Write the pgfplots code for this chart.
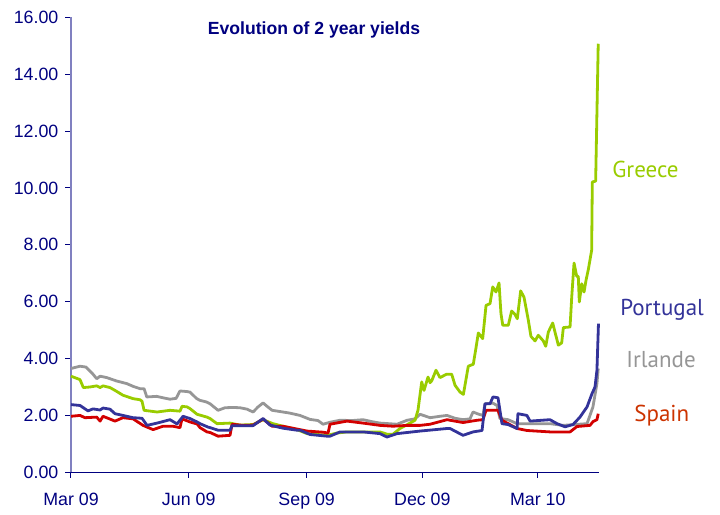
\documentclass[border=0pt]{standalone}
\usepackage{pgfplots}
\pgfplotsset{compat=1.18}
\usepackage{fontspec}
\setmainfont{Liberation Sans}
\newfontfamily\labfont{PT Sans}
\definecolor{navyt}{RGB}{0,0,128}
\definecolor{axisy}{RGB}{128,128,192}
\definecolor{greece}{RGB}{153,204,0}
\definecolor{portugal}{RGB}{51,51,153}
\definecolor{irlande}{RGB}{150,150,150}
\definecolor{spain}{RGB}{210,0,0}
\definecolor{spainlab}{RGB}{204,51,0}
\begin{document}
\begin{tikzpicture}
\useasboundingbox (-35.5pt,-21.35pt) rectangle (324.5pt,236.15pt);
\begin{axis}[
  scale only axis, width=264pt, height=227.5pt,
  xmin=2.3, xmax=412.7, ymin=0, ymax=16,
  axis x line=bottom, axis y line=left,
  axis line style={-},
  x axis line style={navyt, line width=0.6pt},
  y axis line style={axisy, line width=1pt},
  xtick={2.3,93.8,185.5,275.4,365.1},
  xticklabels={Mar 09,Jun 09,Sep 09,Dec 09,Mar 10},
  ytick={0,2,4,6,8,10,12,14,16},
  tick align=outside,
  major tick length=2.8pt,
  tick style={navyt, line width=0.5pt},
  ticklabel style={font=\fontsize{8.9}{10}\selectfont, text=navyt},
  yticklabel style={/pgf/number format/fixed, /pgf/number format/fixed zerofill, /pgf/number format/precision=2, /pgf/number format/assume math mode=true},
  xticklabel style={yshift=-4pt},
  clip=false,
  every axis plot/.append style={line width=1.4pt, line join=round, no markers},
]
% Irlande
\addplot[irlande] coordinates {
(2.3,3.65)(9.3,3.73)(14.0,3.70)(19.4,3.45)(22.3,3.29)(24.9,3.38)(30.1,3.33)(37.8,3.21)(45.6,3.12)(50.7,3.02)(56.0,2.94)(59.1,2.94)(61.2,2.65)(68.9,2.67)(73.8,2.62)(79.3,2.57)(84.0,2.60)(87.0,2.86)(92.3,2.84)(94.8,2.82)(100.0,2.59)(102.6,2.53)(107.8,2.47)(110.4,2.41)(116.6,2.18)(122.0,2.27)(128.2,2.28)(133.7,2.27)(139.1,2.22)(143.8,2.12)(147.7,2.30)(151.6,2.44)(154.7,2.32)(158.6,2.18)(167.1,2.12)(172.5,2.08)(180.3,2.00)(188.1,1.86)(194.3,1.82)(198.2,1.69)(203.6,1.76)(211.4,1.83)(220.7,1.82)(229.3,1.85)(236.3,1.78)(242.5,1.73)(255.7,1.69)(263.5,1.83)(269.7,1.88)(273.6,2.04)(281.4,1.92)(289.1,1.97)(294.6,2.00)(300.8,1.90)(307.0,1.85)(312.4,1.88)(314.8,2.12)(318.7,2.05)(322.5,2.00)(324.1,2.41)(330.3,2.43)(333.4,2.35)(335.7,1.89)(342.0,1.85)(349.0,1.71)(361.4,1.71)(374.6,1.71)(384.7,1.65)(394.0,1.68)(403.4,1.71)(408.0,2.30)(411.1,3.12)(412.1,3.65)
};
% Greece
\addplot[greece] coordinates {
(2.3,3.38)(9.3,3.26)(11.9,2.98)(17.1,3.00)(22.3,3.04)(24.9,2.98)(27.2,3.04)(32.6,2.98)(36.5,2.88)(42.7,2.71)(50.5,2.59)(56.0,2.55)(57.5,2.50)(59.1,2.18)(69.2,2.12)(79.3,2.18)(87.0,2.15)(88.6,2.32)(92.5,2.30)(94.8,2.24)(100.3,2.04)(108.0,1.94)(110.4,1.89)(115.8,1.71)(125.9,1.73)(133.7,1.66)(143.8,1.68)(151.6,1.85)(159.3,1.71)(167.1,1.62)(178.0,1.50)(185.7,1.36)(193.5,1.33)(201.3,1.30)(209.1,1.38)(216.8,1.42)(229.3,1.42)(242.5,1.42)(247.9,1.34)(252.6,1.34)(258.0,1.54)(265.8,1.73)(269.7,1.83)(272.0,2.18)(274.9,3.18)(276.7,2.88)(279.8,3.35)(281.4,3.15)(282.7,3.22)(286.0,3.59)(289.1,3.33)(294.3,3.45)(298.2,3.45)(300.8,3.06)(304.7,2.82)(307.3,2.74)(311.1,3.73)(315.0,3.80)(317.1,4.38)(318.9,4.90)(322.3,4.70)(324.9,5.87)(328.0,5.93)(330.1,6.52)(332.6,6.34)(335.0,6.66)(336.5,5.58)(337.9,5.17)(342.2,5.17)(344.8,5.67)(347.4,5.55)(349.2,5.40)(351.8,6.38)(354.4,6.16)(357.8,5.34)(359.8,4.78)(363.0,4.62)(365.5,4.82)(369.4,4.62)(371.3,4.43)(373.3,4.93)(376.7,5.25)(378.5,4.93)(381.1,4.47)(383.7,4.55)(385.0,5.09)(390.2,5.11)(391.5,6.16)(393.3,7.36)(395.4,6.89)(396.6,6.89)(397.4,5.99)(399.3,6.63)(401.1,6.34)(402.6,6.75)(404.4,7.13)(407.0,7.81)(407.5,10.21)(410.1,10.24)(412.1,15.07)
};
% Spain
\addplot[spain] coordinates {
(2.3,1.97)(9.3,2.00)(13.2,1.92)(22.3,1.94)(24.9,1.80)(27.2,1.97)(36.5,1.80)(42.7,1.92)(50.5,1.88)(58.3,1.65)(66.1,1.50)(73.8,1.62)(81.6,1.62)(87.0,1.57)(88.6,1.88)(94.8,1.77)(100.3,1.70)(102.6,1.57)(108.0,1.42)(110.4,1.40)(116.6,1.27)(125.9,1.30)(127.5,1.69)(136.0,1.65)(143.8,1.66)(151.6,1.87)(158.6,1.62)(167.1,1.62)(178.0,1.52)(185.7,1.45)(198.2,1.41)(202.1,1.38)(203.6,1.69)(216.8,1.80)(229.3,1.73)(242.5,1.65)(252.6,1.62)(263.5,1.65)(273.6,1.65)(281.4,1.69)(294.6,1.85)(296.9,1.83)(307.0,1.75)(317.9,1.83)(322.5,1.85)(324.9,2.18)(334.2,2.18)(337.3,1.83)(349.0,1.54)(356.7,1.47)(374.6,1.42)(390.2,1.42)(395.6,1.61)(405.7,1.65)(408.0,1.78)(411.1,1.85)(412.1,2.06)
};
% Portugal
\addplot[portugal] coordinates {
(2.3,2.38)(9.3,2.35)(15.5,2.16)(19.4,2.23)(24.9,2.19)(27.2,2.26)(32.6,2.22)(36.5,2.06)(42.7,2.00)(50.5,1.92)(57.5,1.90)(61.4,1.65)(69.2,1.73)(79.3,1.85)(84.7,1.70)(89.4,1.97)(94.8,1.89)(100.3,1.77)(102.6,1.71)(108.8,1.59)(110.4,1.57)(116.6,1.48)(125.9,1.48)(127.5,1.64)(143.8,1.64)(151.6,1.89)(157.0,1.66)(167.1,1.55)(178.0,1.48)(180.3,1.48)(188.1,1.33)(201.3,1.27)(203.6,1.27)(211.4,1.42)(229.3,1.42)(242.5,1.36)(247.9,1.24)(255.7,1.36)(273.6,1.45)(294.6,1.54)(296.9,1.54)(307.0,1.30)(314.8,1.42)(321.8,1.47)(324.1,2.41)(328.0,2.41)(330.3,2.65)(334.2,2.62)(337.3,1.71)(342.0,1.68)(349.0,1.54)(349.7,2.06)(356.7,2.00)(359.1,1.80)(374.6,1.85)(380.1,1.71)(386.3,1.60)(392.5,1.68)(397.9,1.94)(403.4,2.30)(407.3,2.77)(409.6,3.00)(411.1,3.59)(412.3,5.23)
};
\node[font=\bfseries\fontsize{8.8}{10}\selectfont, text=navyt] at (axis cs:191.2,15.55) {Evolution of 2 year yields};
\node[anchor=base west, inner sep=0pt, font=\labfont\fontsize{11.5}{13}\selectfont, text=greece] at (axis cs:422.8,10.35) {Greece};
\node[anchor=base west, inner sep=0pt, font=\labfont\fontsize{11.5}{13}\selectfont, text=portugal] at (axis cs:429.0,5.53) {Portugal};
\node[anchor=base west, inner sep=0pt, font=\labfont\fontsize{11.5}{13}\selectfont, text=irlande] at (axis cs:433.7,3.67) {Irlande};
\node[anchor=base west, inner sep=0pt, font=\labfont\fontsize{11.5}{13}\selectfont, text=spainlab] at (axis cs:439.9,1.78) {Spain};
\end{axis}
\end{tikzpicture}
\end{document}
